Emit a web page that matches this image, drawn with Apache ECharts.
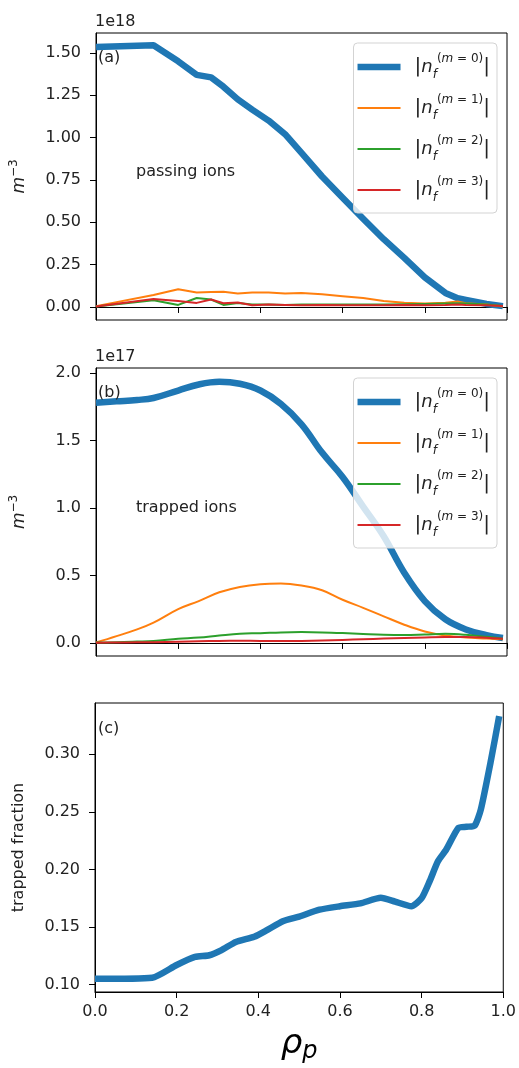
<!DOCTYPE html>
<html><head><meta charset="utf-8">
<script src="https://cdn.jsdelivr.net/npm/echarts@6/dist/echarts.min.js"></script>
<style>html,body{margin:0;padding:0;background:#fff}#c{width:519px;height:1068px}</style>
</head><body><div id="c"></div>
<script>
// ---------- data ----------
// panel (a): passing ions, units of 1e18 m^-3
const rhoA = [0, 0.14, 0.2, 0.245, 0.28, 0.31, 0.345, 0.38, 0.42, 0.46, 0.5, 0.55, 0.6, 0.65, 0.7, 0.75, 0.8, 0.85, 0.88, 0.9, 0.95, 0.99];
const passM0 = [1.535, 1.545, 1.45, 1.37, 1.355, 1.30, 1.225, 1.165, 1.10, 1.02, 0.91, 0.77, 0.645, 0.52, 0.40, 0.29, 0.175, 0.083, 0.052, 0.042, 0.018, 0.005];
const passM1 = [0.005, 0.07, 0.105, 0.085, 0.088, 0.09, 0.08, 0.085, 0.085, 0.08, 0.083, 0.075, 0.063, 0.053, 0.035, 0.025, 0.02, 0.025, 0.032, 0.022, 0.015, 0.002];
const passM2 = [0.003, 0.04, 0.012, 0.053, 0.044, 0.012, 0.024, 0.014, 0.015, 0.012, 0.015, 0.014, 0.015, 0.015, 0.015, 0.016, 0.018, 0.02, 0.022, 0.02, 0.015, 0.005];
const passM3 = [0.003, 0.047, 0.035, 0.024, 0.044, 0.022, 0.026, 0.01, 0.015, 0.012, 0.01, 0.012, 0.01, 0.01, 0.01, 0.012, 0.01, 0.012, 0.015, 0.012, 0.01, 0.005];
// panel (b): trapped ions, units of 1e17 m^-3
const rhoB = [0, 0.05, 0.1, 0.14, 0.2, 0.25, 0.3, 0.35, 0.4, 0.45, 0.5, 0.55, 0.6, 0.65, 0.7, 0.75, 0.8, 0.85, 0.9, 0.95, 0.99];
const trapM0 = [1.78, 1.79, 1.80, 1.815, 1.87, 1.915, 1.935, 1.92, 1.87, 1.77, 1.62, 1.41, 1.23, 1.01, 0.79, 0.52, 0.31, 0.175, 0.10, 0.058, 0.037];
const trapM1 = [0.003, 0.05, 0.10, 0.15, 0.25, 0.31, 0.375, 0.415, 0.435, 0.44, 0.425, 0.39, 0.32, 0.26, 0.197, 0.135, 0.085, 0.055, 0.04, 0.033, 0.027];
const trapM2 = [0.003, 0.005, 0.01, 0.015, 0.03, 0.04, 0.055, 0.068, 0.072, 0.078, 0.08, 0.078, 0.073, 0.066, 0.06, 0.058, 0.062, 0.067, 0.06, 0.045, 0.03];
const trapM3 = [0.002, 0.003, 0.004, 0.005, 0.008, 0.012, 0.015, 0.016, 0.015, 0.014, 0.015, 0.018, 0.022, 0.027, 0.032, 0.036, 0.04, 0.043, 0.043, 0.038, 0.03];
// panel (c): trapped fraction
const rhoC = [0, 0.14, 0.2, 0.245, 0.28, 0.31, 0.345, 0.39, 0.42, 0.46, 0.5, 0.55, 0.6, 0.65, 0.7, 0.735, 0.775, 0.8, 0.82, 0.84, 0.86, 0.89, 0.91, 0.93, 0.945, 0.97, 0.99];
const trappedFraction = [0.105, 0.106, 0.117, 0.124, 0.1255, 0.13, 0.137, 0.1415, 0.147, 0.155, 0.159, 0.165, 0.168, 0.1705, 0.1753, 0.172, 0.168, 0.175, 0.19, 0.207, 0.217, 0.236, 0.237, 0.238, 0.252, 0.295, 0.333];

const xTicks = [0, 0.2, 0.4, 0.6, 0.8, 1.0];
const yTicksA = [0, 0.25, 0.5, 0.75, 1.0, 1.25, 1.5];
const yTicksB = [0, 0.5, 1.0, 1.5, 2.0];
const yTicksC = [0.10, 0.15, 0.20, 0.25, 0.30];
const modes = ['0', '1', '2', '3'];
const colors = ['#1f77b4', '#ff7f0e', '#2ca02c', '#d62728'];

// ---------- chart ----------
const FONT = 'DejaVu Sans';
const TXT = '#222';
const pairs = (x, y) => x.map((v, i) => [v, y[i]]);

const grids = [
  {left: 95, right: 12, top: 33, height: 287},
  {left: 95, right: 12, top: 368, height: 288},
  {left: 95, right: 12, top: 703, height: 289}
].map(g => Object.assign(g, {show: true, borderColor: '#000', borderWidth: 1, backgroundColor: 'transparent'}));

function xAxis(i, showLabels) {
  const ax = {
    type: 'value', gridIndex: i, min: 0, max: 1, interval: 0.2,
    axisLine: {show: true, lineStyle: {color: '#000', width: 1}},
    axisTick: {show: true, inside: false, length: 6, lineStyle: {color: '#000'}, customValues: xTicks},
    axisLabel: {show: showLabels, customValues: xTicks, margin: 12, fontFamily: FONT, fontSize: 16, color: TXT,
      formatter: v => v.toFixed(1)},
    splitLine: {show: false}
  };
  if (showLabels) {
    ax.name = '{r|ρ}{s|p}';
    ax.nameLocation = 'middle';
    ax.nameGap = 32;
    ax.nameTextStyle = {rich: {
      r: {fontFamily: FONT, fontStyle: 'italic', fontSize: 34, lineHeight: 40, color: '#000'},
      s: {fontFamily: FONT, fontStyle: 'italic', fontSize: 24, lineHeight: 24, verticalAlign: 'bottom', color: '#000'}
    }};
  }
  return ax;
}
function yAxis(i, min, max, ticks, dec, name, gap) {
  return {
    type: 'value', gridIndex: i, min: min, max: max,
    axisLine: {show: true, lineStyle: {color: '#000', width: 1}},
    axisTick: {show: true, inside: false, length: 6, lineStyle: {color: '#000'}, customValues: ticks},
    axisLabel: {customValues: ticks, margin: 15, fontFamily: FONT, fontSize: 16, color: TXT,
      formatter: v => v.toFixed(dec)},
    splitLine: {show: false},
    name: name, nameLocation: 'middle', nameRotate: 90, nameGap: gap,
    nameTextStyle: {fontFamily: FONT, fontSize: 16, color: TXT, rich: {
      m: {fontFamily: FONT, fontStyle: 'italic', fontSize: 17, lineHeight: 24, color: TXT},
      s: {fontFamily: FONT, fontSize: 12, lineHeight: 12, verticalAlign: 'top', color: TXT}
    }}
  };
}

const richLegend = {
  bar0: {fontFamily: FONT, fontSize: 20, lineHeight: 28, color: TXT, padding: [0, 0, 0, 9]},
  bar: {fontFamily: FONT, fontSize: 20, lineHeight: 28, color: TXT},
  n: {fontFamily: FONT, fontStyle: 'italic', fontSize: 18, lineHeight: 28, color: TXT},
  sub: {fontFamily: FONT, fontStyle: 'italic', fontSize: 12, lineHeight: 20, verticalAlign: 'bottom', color: TXT},
  sup: {fontFamily: FONT, fontSize: 12, lineHeight: 9, verticalAlign: 'top', color: TXT},
  supi: {fontFamily: FONT, fontStyle: 'italic', fontSize: 12, lineHeight: 9, verticalAlign: 'top', color: TXT}
};
function legendLabel(name) {
  const m = name.slice(-1);
  return '{bar0||}{n|n}{sub|f}{sup|(}{supi|m}{sup| = ' + m + ')}{bar||}';
}
function makeLegend(prefix, top) {
  return {
    orient: 'vertical', right: 22, top: top,
    padding: [10, 7, 9, 4], itemGap: 13, itemWidth: 43, itemHeight: 14,
    backgroundColor: 'rgba(255,255,255,0.8)', borderColor: '#d3d3d3', borderWidth: 1, borderRadius: 4,
    symbolKeepAspect: true,
    selectedMode: false,
    data: modes.map((m, k) => ({
      name: prefix + m,
      icon: k === 0 ? 'path://M0,0H43V6.5H0Z' : 'path://M0,0H43V2H0Z'
    })),
    formatter: legendLabel,
    textStyle: {rich: richLegend}
  };
}

const series = [];
const setA = [passM0, passM1, passM2, passM3];
const setB = [trapM0, trapM1, trapM2, trapM3];
modes.forEach((m, k) => {
  series.push({name: 'a' + m, type: 'line', xAxisIndex: 0, yAxisIndex: 0, data: pairs(rhoA, setA[k]),
    symbol: 'none', color: colors[k], itemStyle: {color: colors[k]},
    lineStyle: {color: colors[k], width: k === 0 ? 6.5 : 2, join: 'round'}, z: 2 + k});
});
modes.forEach((m, k) => {
  series.push({name: 'b' + m, type: 'line', xAxisIndex: 1, yAxisIndex: 1, data: pairs(rhoB, setB[k]),
    symbol: 'none', smooth: 0.4, color: colors[k], itemStyle: {color: colors[k]},
    lineStyle: {color: colors[k], width: k === 0 ? 6.5 : 2, join: 'round'}, z: 2 + k});
});
series.push({name: 'frac', type: 'line', xAxisIndex: 2, yAxisIndex: 2, data: pairs(rhoC, trappedFraction),
  symbol: 'none', smooth: 0.2, color: colors[0], lineStyle: {color: colors[0], width: 6.5, join: 'round'}});

const txt = (text, left, top, size) => ({type: 'text', left: left, top: top, z: 10,
  style: {text: text, font: (size || 16) + 'px "DejaVu Sans"', fill: TXT}});

const option = {
  animation: false,
  backgroundColor: '#fff',
  grid: grids,
  xAxis: [xAxis(0, false), xAxis(1, false), xAxis(2, true)],
  yAxis: [
    yAxis(0, -0.077, 1.617, yTicksA, 2, '{m|m}{s|−3}', 64),
    yAxis(1, -0.097, 2.037, yTicksB, 1, '{m|m}{s|−3}', 64),
    yAxis(2, 0.0936, 0.3444, yTicksC, 2, 'trapped fraction', 68)
  ],
  legend: [makeLegend('a', 43), makeLegend('b', 378)],
  series: series,
  graphic: [
    txt('1e18', 95, 14),
    txt('1e17', 95, 349),
    txt('(a)', 98, 50),
    txt('passing ions', 136, 164),
    txt('(b)', 98, 385),
    txt('trapped ions', 136, 500),
    txt('(c)', 98, 721)
  ]
};
const chart = echarts.init(document.getElementById('c'), null, {renderer: 'canvas'});
chart.setOption(option);
</script></body></html>
